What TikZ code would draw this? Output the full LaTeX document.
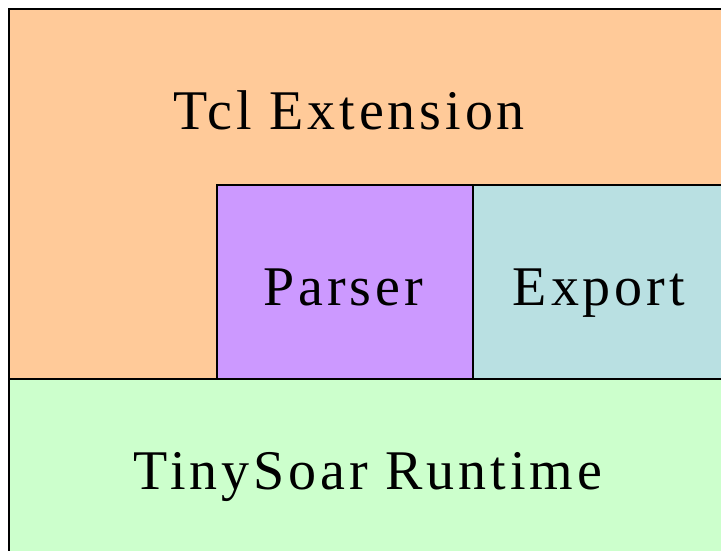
\documentclass[tikz,border=0pt]{standalone}
\usepackage{fontspec}
\setmainfont{Liberation Serif}[LetterSpace=7]
\definecolor{tclorange}{HTML}{FFCA99}
\definecolor{parserpurple}{HTML}{CC99FF}
\definecolor{exportcyan}{HTML}{B9E0E2}
\definecolor{runtimegreen}{HTML}{CCFFCC}
\tikzset{
  layer/.style={draw=black, line width=2pt},
  lbl/.style={font=\fontsize{56}{60}\selectfont, inner sep=0pt, anchor=base}
}
\begin{document}
\begin{tikzpicture}[x=1pt, y=-1pt]
  \useasboundingbox (0,0) rectangle (721,551);
  \clip (0,0) rectangle (721,551);
  % extension layer and the two modules sitting inside it
  \path[layer, fill=tclorange] (9,9) rectangle (727,379);
  \path[layer, fill=parserpurple] (217,185) rectangle (473,379);
  \path[layer, fill=exportcyan] (473,185) rectangle (727,379);
  % runtime underneath
  \path[layer, fill=runtimegreen] (9,379) rectangle (727,563);
  \node[lbl] (tcl) at (349,129) {Tcl Extension};
  \node[lbl] (parser) at (343,305) {Parser};
  \node[lbl] (export) at (599,305) {Export};
  \node[lbl] (runtime) at (368,489) {TinySoar Runtime};
\end{tikzpicture}
\end{document}
